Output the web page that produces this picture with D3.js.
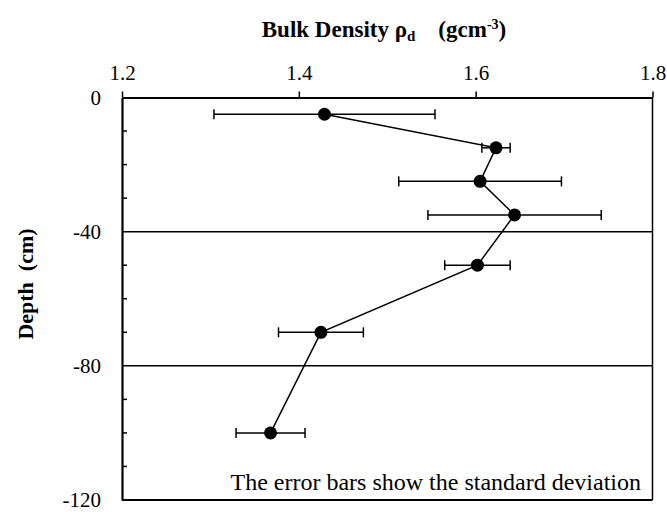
<!DOCTYPE html>
<html><head><meta charset="utf-8">
<script src="https://cdn.jsdelivr.net/npm/d3@7"></script>
<style>body{margin:0;background:#fff}svg{display:block}</style>
</head><body><svg id="c" width="667" height="512"></svg>
<script>
const depths = [-5, -15, -25, -35, -50, -70, -100];
const density = [1.429, 1.623, 1.605, 1.644, 1.602, 1.425, 1.368];
const sdev = [0.125, 0.016, 0.092, 0.098, 0.037, 0.048, 0.039];
const xTicks = [1.2, 1.4, 1.6, 1.8];
const yTicks = [0, -40, -80, -120];
const yMinor = [-10, -20, -30, -50, -60, -70, -90, -100, -110];
const gridDepths = [-40, -80];
const noteText = "The error bars show the standard deviation";

const svg = d3.select("#c");
const L = 122, R = 652.5, T = 97.5, B = 500;
const x = d3.scaleLinear().domain([1.2, 1.8]).range([L, R]);
const y = d3.scaleLinear().domain([0, -120]).range([T, B]);
const font = "'Liberation Serif','Times New Roman',serif";

// grid lines
svg.selectAll(".grid").data(gridDepths).enter().append("line")
  .attr("x1", L).attr("x2", R).attr("y1", d => y(d)).attr("y2", d => y(d))
  .attr("stroke", "#000").attr("stroke-width", 1.5);

// top axis
const xAxis = d3.axisTop(x).tickValues(xTicks).tickFormat(d3.format(".1f")).tickSize(6).tickSizeOuter(0);
const gx = svg.append("g").attr("transform", `translate(0,${T})`).call(xAxis);
gx.select(".domain").attr("stroke-width", 2.2);
gx.selectAll(".tick line").attr("stroke-width", 1.5);
gx.selectAll(".tick text").attr("font-family", font).attr("font-size", 21).attr("fill", "#000")
  .attr("y", -18).attr("dy", 0);

// left axis
const yAxis = d3.axisLeft(y).tickValues(yTicks).tickFormat(d => String(d)).tickSize(0).tickPadding(21).tickSizeOuter(0);
const gy = svg.append("g").attr("transform", `translate(${L},0)`).call(yAxis);
gy.select(".domain").attr("stroke-width", 2.2);
gy.selectAll(".tick text").attr("font-family", font).attr("font-size", 21).attr("fill", "#000").attr("dy", "0.33em");
// minor ticks inward
svg.selectAll(".minor").data(yMinor).enter().append("line")
  .attr("x1", L).attr("x2", L + 5).attr("y1", d => y(d)).attr("y2", d => y(d))
  .attr("stroke", "#000").attr("stroke-width", 1.5);

// right and bottom frame
svg.append("line").attr("x1", R).attr("x2", R).attr("y1", T).attr("y2", B).attr("stroke", "#000").attr("stroke-width", 1.5);
svg.append("line").attr("x1", L).attr("x2", R).attr("y1", B).attr("y2", B).attr("stroke", "#000").attr("stroke-width", 2.2);

const data = depths.map((d, i) => ({d, v: density[i], s: sdev[i]}));

// error bars
const eb = svg.selectAll(".eb").data(data).enter().append("g");
eb.append("line").attr("x1", d => x(d.v - d.s)).attr("x2", d => x(d.v + d.s))
  .attr("y1", d => y(d.d)).attr("y2", d => y(d.d)).attr("stroke", "#000").attr("stroke-width", 1.5);
[-1, 1].forEach(sg => {
  eb.append("line").attr("x1", d => x(d.v + sg * d.s)).attr("x2", d => x(d.v + sg * d.s))
    .attr("y1", d => y(d.d) - 5).attr("y2", d => y(d.d) + 5).attr("stroke", "#000").attr("stroke-width", 1.5);
});

// line
svg.append("path").datum(data)
  .attr("d", d3.line().x(d => x(d.v)).y(d => y(d.d)))
  .attr("fill", "none").attr("stroke", "#000").attr("stroke-width", 1.5);

// points
svg.selectAll(".pt").data(data).enter().append("circle")
  .attr("cx", d => x(d.v)).attr("cy", d => y(d.d)).attr("r", 6.5).attr("fill", "#000");

// title
const title = svg.append("text").attr("x", 384).attr("y", 37).attr("text-anchor", "middle")
  .attr("font-family", font).attr("font-size", 23).attr("font-weight", "bold");
title.append("tspan").text("Bulk Density ρ");
title.append("tspan").attr("font-size", 15).attr("dy", 4).text("d");
title.append("tspan").attr("dy", -4).text("\u00a0\u00a0\u00a0\u00a0(gcm");
title.append("tspan").attr("font-size", 14).attr("dy", -8).text("-3");
title.append("tspan").attr("dy", 8).text(")");

// y label
svg.append("text").attr("transform", "translate(33,284) rotate(-90)").attr("text-anchor", "middle")
  .attr("font-family", font).attr("font-size", 22).attr("font-weight", "bold").text("Depth\u00a0\u00a0(cm)");

// note
svg.append("text").attr("x", 641).attr("y", 490).attr("text-anchor", "end")
  .attr("font-family", font).attr("font-size", 24).text(noteText);
</script></body></html>
